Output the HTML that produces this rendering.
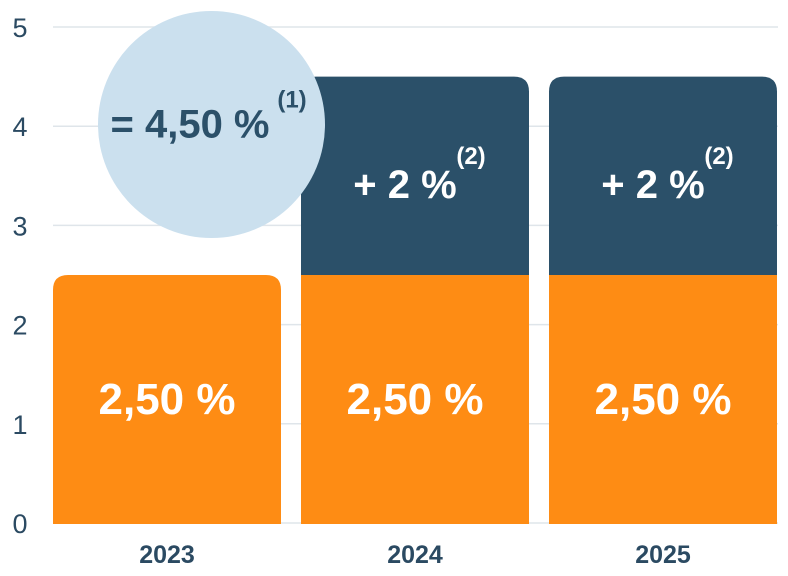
<!DOCTYPE html>
<html><head><meta charset="utf-8"><style>
body{margin:0;background:#fff}
svg{display:block;font-family:"Liberation Sans",sans-serif}
</style></head><body>
<svg id="chart" width="788" height="576" viewBox="0 0 788 576" xmlns="http://www.w3.org/2000/svg"></svg>
<script>
const categories=["2023","2024","2025"];
const baseValues=[2.5,2.5,2.5];
const extraValues=[0,2,2];
const baseLabels=["2,50 %","2,50 %","2,50 %"];
const extraLabels=["","+ 2 %","+ 2 %"];
const yTicks=[0,1,2,3,4,5];
const totalLabel="= 4,50 %";
const totalValue=4.5;

const NS="http://www.w3.org/2000/svg";
const svg=document.getElementById('chart');
const y0=523, unit=99.2;
const y=v=>y0-v*unit;
const bandStart=53, bandStep=248, barW=228;
const x=i=>bandStart+i*bandStep;
function mk(t,a,p){const e=document.createElementNS(NS,t);for(const k in a)e.setAttribute(k,a[k]);(p||svg).appendChild(e);return e;}
function topRounded(x0,yt,w,yb,r){return `M${x0},${yb} L${x0},${yt+r} Q${x0},${yt} ${x0+r},${yt} L${x0+w-r},${yt} Q${x0+w},${yt} ${x0+w},${yt+r} L${x0+w},${yb} Z`;}

yTicks.forEach(t=>{
 const g=mk('line',{x1:53,x2:778,y1:y(t),y2:y(t),stroke:'#dfe5ea','stroke-width':1.5});
 
 
 const l=mk('text',{x:20,y:y(t)+10,'text-anchor':'middle','font-size':27,fill:'#2b4a62'});
 l.textContent=t;
 
 
});

categories.forEach((c,i)=>{
 const xs=x(i), cx=xs+barW/2;
 const total=baseValues[i]+extraValues[i];
 if(extraValues[i]>0){
  const d=mk('path',{d:topRounded(xs,y(total),barW,y(baseValues[i]),15),fill:'#2b5069'});
  
  
  const tx=mk('text',{x:cx-10,y:(y(total)+y(baseValues[i]))/2+22,'text-anchor':'middle','font-size':40,'font-weight':'bold',fill:'#fff'});
  tx.textContent=extraLabels[i];
  
  
  const s=mk('text',{x:cx+56,y:(y(total)+y(baseValues[i]))/2-12,'text-anchor':'middle','font-size':24,'font-weight':'bold',fill:'#fff'});
  s.textContent='(2)';
  
  
 }
 const r=extraValues[i]>0?0:15;
 const b=mk('path',{d:topRounded(xs,y(baseValues[i]),barW,y0+1,r),fill:'#fe8c14'});
 
 
 const bt=mk('text',{x:cx,y:(y(baseValues[i])+y0)/2+15,'text-anchor':'middle','font-size':44,'font-weight':'bold',fill:'#fff'});
 bt.textContent=baseLabels[i];
 
 
 const xl=mk('text',{x:cx,y:563,'text-anchor':'middle','font-size':25,'font-weight':'bold',fill:'#2b4a62'});
 xl.textContent=c;
 
 
});

const circ=mk('circle',{cx:211.5,cy:124.5,r:113.5,fill:'#cbe0ee'});


const ct=mk('text',{x:190,y:y(totalValue)+61,'text-anchor':'middle','font-size':40,'font-weight':'bold',fill:'#2b5069'});
ct.textContent=totalLabel;


const cs=mk('text',{x:292,y:y(totalValue)+31,'text-anchor':'middle','font-size':24,'font-weight':'bold',fill:'#2b5069'});
cs.textContent='(1)';


</script>
</body></html>
